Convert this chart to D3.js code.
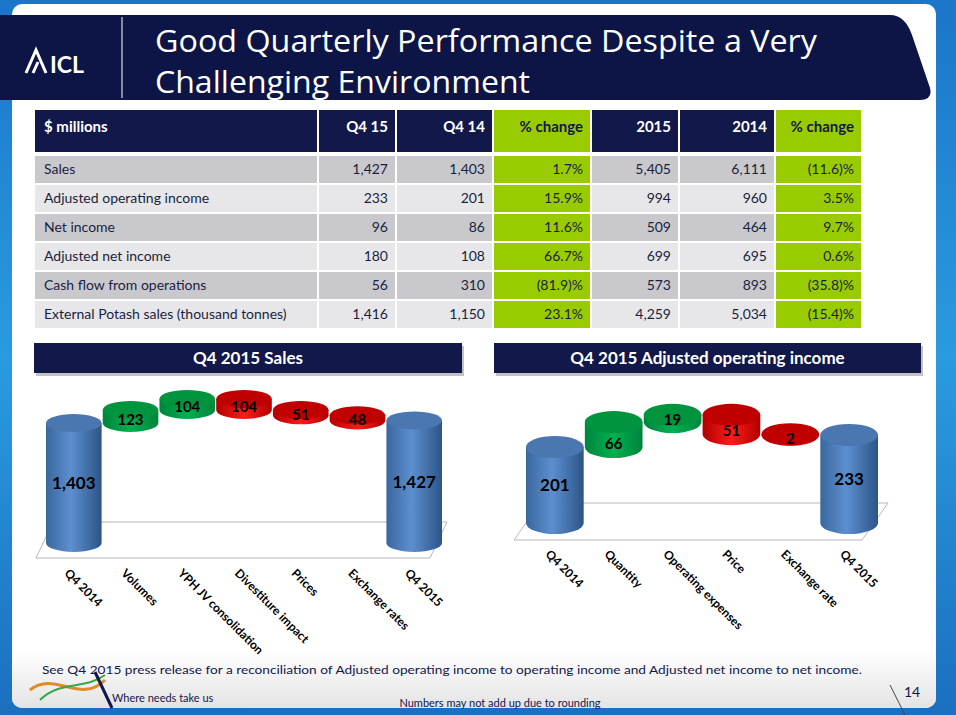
<!DOCTYPE html>
<html><head><meta charset="utf-8">
<script src="https://cdn.jsdelivr.net/npm/d3@7"></script>
<style>body{margin:0;background:#fff}svg{display:block;font-family:Lato,"Open Sans",sans-serif}</style>
</head><body>
<script>
// table data
const colHeads = ["$ millions", "Q4 15", "Q4 14", "% change", "2015", "2014", "% change"];
const rowNames = ["Sales", "Adjusted operating income", "Net income", "Adjusted net income", "Cash flow from operations", "External Potash sales (thousand tonnes)"];
const q415 = ["1,427", "233", "96", "180", "56", "1,416"];
const q414 = ["1,403", "201", "86", "108", "310", "1,150"];
const chgQ = ["1.7%", "15.9%", "11.6%", "66.7%", "(81.9)%", "23.1%"];
const y2015 = ["5,405", "994", "509", "699", "573", "4,259"];
const y2014 = ["6,111", "960", "464", "695", "893", "5,034"];
const chgY = ["(11.6)%", "3.5%", "9.7%", "0.6%", "(35.8)%", "(15.4)%"];

// waterfall data
const salesCats = ["Q4 2014", "Volumes", "YPH JV consolidation", "Divestiture impact", "Prices", "Exchange rates", "Q4 2015"];
const salesVals = [1403, 123, 104, -104, -51, -48, 1427];
const aoiCats = ["Q4 2014", "Quantity", "Operating expenses", "Price", "Exchange rate", "Q4 2015"];
const aoiVals = [201, 66, 19, -51, -2, 233];

const W = 956, H = 715;
const svg = d3.select("body").append("svg").attr("width", W).attr("height", H);
const defs = svg.append("defs");

function grad(id, stops, x2 = 1, y2 = 0) {
    const g = defs.append("linearGradient").attr("id", id).attr("x1", 0).attr("y1", 0).attr("x2", x2).attr("y2", y2);
    stops.forEach(s => g.append("stop").attr("offset", s[0]).attr("stop-color", s[1]));
}
grad("side", [[0, "#1b75c9"], [0.5, "#2a9be0"], [1, "#1b6fc0"]], 0, 1);
grad("foot", [[0, "#ffffff"], [1, "#e4e4e4"]], 0, 1);
grad("blue", [[0, "#3a679e"], [0.45, "#5d8fcf"], [1, "#2c5488"]]);
grad("green", [[0, "#00843d"], [0.5, "#00b050"], [1, "#00843d"]]);
grad("red", [[0, "#b00000"], [0.5, "#ff1a1a"], [1, "#b00000"]]);

// slide frame
svg.append("rect").attr("width", W).attr("height", H).attr("fill", "url(#side)");
svg.append("rect").attr("x", 12).attr("y", 4).attr("width", 924).attr("height", 704).attr("rx", 10).attr("fill", "#fff");
svg.append("rect").attr("x", 12).attr("y", 650).attr("width", 924).attr("height", 58).attr("rx", 10).attr("fill", "url(#foot)");

// title banner
svg.append("path")
    .attr("d", "M0,15 L890,15 Q905,15 912,35 L930,88 Q933,100 920,100 L0,100 Z")
    .attr("fill", "#0d1547");
svg.append("line").attr("x1", 122).attr("x2", 122).attr("y1", 17).attr("y2", 98).attr("stroke", "#fff").attr("stroke-width", 1);
svg.append("path").attr("d", "M26,73 L36,50 L46,73 M33,73 L38,62").attr("stroke", "#fff").attr("stroke-width", 3).attr("fill", "none");
svg.append("text").attr("x", 50).attr("y", 73).attr("fill", "#fff").attr("font-size", 23).attr("font-weight", "bold")
    .attr("font-family", "'Liberation Sans Narrow',Lato,sans-serif").text("ICL");
svg.append("text").attr("x", 155).attr("y", 52).attr("fill", "#fff").attr("font-size", 31)
    .attr("font-family", "'Open Sans',sans-serif").attr("textLength", 662).attr("lengthAdjust", "spacingAndGlyphs")
    .text("Good Quarterly Performance Despite a Very");
svg.append("text").attr("x", 155).attr("y", 93).attr("fill", "#fff").attr("font-size", 31)
    .attr("font-family", "'Open Sans',sans-serif").attr("textLength", 375).attr("lengthAdjust", "spacingAndGlyphs")
    .text("Challenging Environment");

// table
const colX = [34, 318, 396, 493, 591, 679, 775, 862];
const hdrY = 110, hdrH = 42, rowY0 = 155, rowH = 29;
const tbl = svg.append("g");
colHeads.forEach((h, i) => {
    const green = i === 3 || i === 6;
    tbl.append("rect").attr("x", colX[i] + 1).attr("y", hdrY).attr("width", colX[i + 1] - colX[i] - 2).attr("height", hdrH)
        .attr("fill", green ? "#99cc00" : "#12184a");
    tbl.append("text").attr("x", i === 0 ? colX[0] + 10 : colX[i + 1] - 8).attr("y", hdrY + 22)
        .attr("text-anchor", i === 0 ? "start" : "end").attr("font-size", 15).attr("font-weight", "bold")
        .attr("fill", green ? "#12184a" : "#fff").text(h);
});
const cols = [rowNames, q415, q414, chgQ, y2015, y2014, chgY];
rowNames.forEach((r, j) => {
    const y = rowY0 + j * rowH;
    cols.forEach((c, i) => {
        const green = i === 3 || i === 6;
        tbl.append("rect").attr("x", colX[i] + 1).attr("y", y + 1).attr("width", colX[i + 1] - colX[i] - 2).attr("height", rowH - 2)
            .attr("fill", green ? "#99cc00" : (j % 2 === 0 ? "#c9c9cd" : "#e7e7e9"));
        tbl.append("text").attr("x", i === 0 ? colX[0] + 10 : colX[i + 1] - 8).attr("y", y + 19)
            .attr("text-anchor", i === 0 ? "start" : "end").attr("font-size", 14).attr("fill", "#1a1f3f").text(c[j]);
    });
});

// chart headers
[[34, 462, "Q4 2015 Sales"], [494, 921, "Q4 2015 Adjusted  operating  income"]].forEach(h => {
    svg.append("rect").attr("x", h[0] + 2).attr("y", 346).attr("width", h[1] - h[0]).attr("height", 30).attr("fill", "#888").attr("opacity", 0.5);
    svg.append("rect").attr("x", h[0]).attr("y", 343).attr("width", h[1] - h[0]).attr("height", 30).attr("fill", "#12184a");
    svg.append("text").attr("x", (h[0] + h[1]) / 2).attr("y", 364).attr("text-anchor", "middle").attr("fill", "#fff")
        .attr("font-size", 17).attr("font-weight", "bold").text(h[2]);
});

function waterfall(cats, vals, o) {
    const g = svg.append("g");
    const x = d3.scaleBand().domain(cats).range(o.xr).paddingInner(0.02);
    const y = d3.scaleLinear().domain(o.yd).range(o.yr);
    const ry = o.ry;
    // floor
    g.append("path").attr("d", `M${o.floor[0]},${o.floor[2]} L${o.floor[1]},${o.floor[2]} L${o.floor[1] + o.skew},${o.floor[3]} L${o.floor[0] + o.skew},${o.floor[3]} Z`)
        .attr("fill", "#fff").attr("stroke", "#b8b8b8");
    let run = 0;
    const bars = vals.map((v, i) => {
        let lo, hi, kind;
        if (i === 0 || i === vals.length - 1) { lo = o.yd[0]; hi = v; kind = "blue"; run = v; }
        else { lo = v > 0 ? run : run + v; hi = v > 0 ? run + v : run; kind = v > 0 ? "green" : "red"; run += v; }
        return { c: cats[i], v, lo, hi, kind };
    });
    const w = x.bandwidth();
    const top = { blue: "#4a77b0", green: "#00943f", red: "#c00000" };
    bars.forEach(b => {
        const cx = x(b.c) + w / 2, yt = y(b.hi), yb = y(b.lo);
        g.append("path")
            .attr("d", `M${cx - w / 2},${yt} L${cx - w / 2},${yb} A${w / 2},${ry} 0 0 0 ${cx + w / 2},${yb} L${cx + w / 2},${yt} Z`)
            .attr("fill", `url(#${b.kind})`);
        g.append("ellipse").attr("cx", cx).attr("cy", yt).attr("rx", w / 2).attr("ry", ry).attr("fill", top[b.kind]);
        const base = b.kind === "blue";
        g.append("text").attr("x", cx).attr("y", base ? (yt + yb) / 2 + 6 : Math.max(yb, yt + 8) + 2)
            .attr("text-anchor", "middle").attr("font-size", base ? 17 : 15).attr("font-weight", "bold").attr("fill", "#000")
            .text(d3.format(",")(Math.abs(b.v)));
    });
    cats.forEach(c => {
        g.append("text").attr("transform", `translate(${x(c) + w / 2 - 10},${o.labY}) rotate(45)`)
            .attr("font-size", 12).attr("font-weight", "bold").attr("fill", "#000").text(c);
    });
}

waterfall(salesCats, salesVals, { xr: [46, 442], yd: [270, 1403], yr: [543, 423], ry: 9, floor: [36, 430, 558, 522], skew: 17, labY: 574 });
waterfall(aoiCats, aoiVals, { xr: [526, 878], yd: [0, 201], yr: [523, 447], ry: 11, floor: [514, 862, 540, 503], skew: 26, labY: 555 });

// footer
svg.append("text").attr("x", 42).attr("y", 674).attr("font-size", 12).attr("fill", "#12184a")
    .attr("textLength", 820).attr("lengthAdjust", "spacingAndGlyphs")
    .text("See Q4 2015  press release for a reconciliation of Adjusted operating income to operating income and Adjusted net income to net income.");
svg.append("text").attr("x", 112).attr("y", 702).attr("font-size", 11).attr("fill", "#12184a").text("Where needs take us");
svg.append("path").attr("d", "M30,690 C55,670 80,705 105,680").attr("stroke", "#e08a2a").attr("stroke-width", 3).attr("fill", "none");
svg.append("path").attr("d", "M40,700 C60,680 85,690 105,675").attr("stroke", "#3aa64a").attr("stroke-width", 2).attr("fill", "none");
svg.append("line").attr("x1", 95).attr("y1", 672).attr("x2", 112).attr("y2", 708).attr("stroke", "#12184a").attr("stroke-width", 3);
svg.append("text").attr("x", 500).attr("y", 707).attr("text-anchor", "middle").attr("font-size", 11).attr("fill", "#12184a")
    .text("Numbers may not add  up due to rounding");
svg.append("line").attr("x1", 890).attr("y1", 685).attr("x2", 905).attr("y2", 715).attr("stroke", "#444");
svg.append("text").attr("x", 912).attr("y", 697).attr("text-anchor", "middle").attr("font-size", 14).attr("fill", "#12184a").text("14");
</script>
</body></html>
